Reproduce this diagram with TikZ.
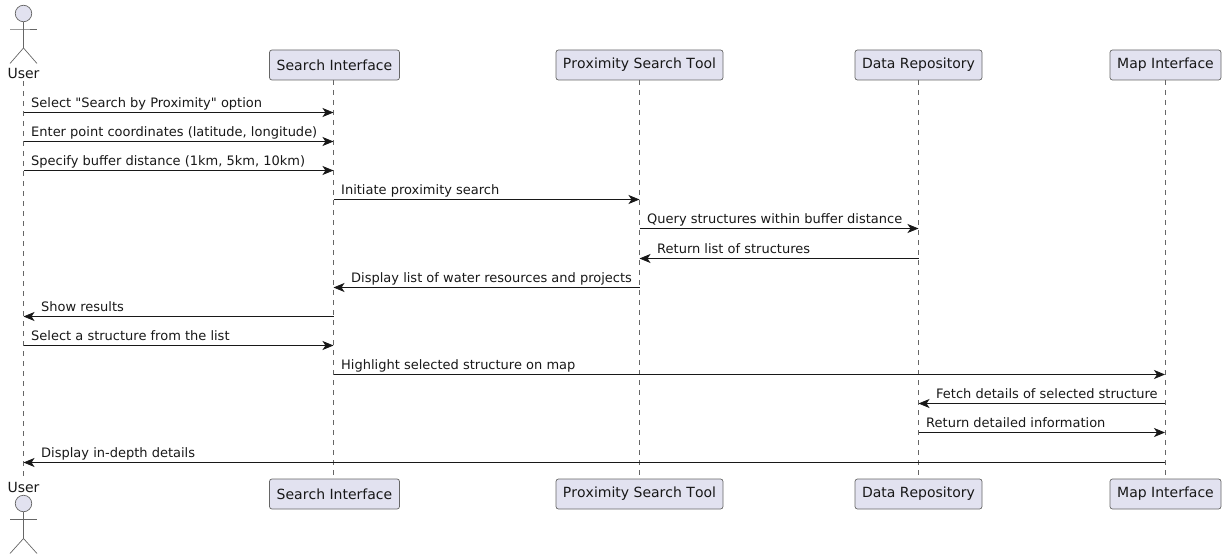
\documentclass[tikz,border=0pt]{standalone}
\usepackage{fontspec}
\setmainfont{DejaVu Sans}[Ligatures=TeXOff]
\usepackage{xcolor}
\usetikzlibrary{arrows.meta, positioning, calc}
\definecolor{boxfill}{HTML}{E2E2F0}
\definecolor{boxline}{HTML}{666666}
\definecolor{inkline}{HTML}{181818}

\begin{document}
\begin{tikzpicture}[x=1pt, y=-1pt, >={Stealth[length=11pt, width=9pt, inset=3pt]}]
  \tikzset{
    partbox/.style = {rectangle, draw=boxline, fill=boxfill, rounded corners=2.5pt, line width=0.7pt,
      minimum height=30pt, inner xsep=0pt, inner ysep=0pt, font=\fontsize{14}{16}\selectfont\addfontfeatures{Kerning=Off}, text=inkline},
    actorline/.style = {draw=boxline, line width=0.7pt},
    actorhead/.style = {circle, draw=boxline, fill=boxfill, line width=0.7pt, minimum size=16.5pt, inner sep=0pt},
    actorname/.style = {inner sep=0pt, font=\fontsize{14}{16}\selectfont, text=inkline},
    lifeline/.style = {draw=boxline, line width=0.5pt, dash pattern=on 5pt off 5pt},
    msg/.style = {->, draw=inkline, line width=0.8pt},
    msglabel/.style = {inner sep=0pt, anchor=base west, font=\fontsize{13}{15}\selectfont, text=inkline}
  }
  \useasboundingbox (0,0) rectangle (1226,559);

  % participants, top row and bottom row
  \node[partbox, minimum width=130pt] (SearchTop) at (334.5,65) {Search Interface};
  \node[partbox, minimum width=167pt] (ProxTop) at (639.5,65) {Proximity Search Tool};
  \node[partbox, minimum width=127pt] (DataTop) at (918.5,65) {Data Repository};
  \node[partbox, minimum width=111pt] (MapTop) at (1165.5,65) {Map Interface};
  \node[partbox, minimum width=130pt] (SearchBot) at (334.5,494) {Search Interface};
  \node[partbox, minimum width=167pt] (ProxBot) at (639.5,494) {Proximity Search Tool};
  \node[partbox, minimum width=127pt] (DataBot) at (918.5,494) {Data Repository};
  \node[partbox, minimum width=111pt] (MapBot) at (1165.5,494) {Map Interface};

  % actor, top
  \node[actorhead] (HeadTop) at (23.5,13.5) {};
  \node[actorname] (UserTop) at (23.5,73) {User};
  \coordinate (ArmsTop) at (23.5,29);
  \coordinate (HipTop) at (23.5,48);
  \draw[actorline] (HeadTop) -- (HipTop) -- (10,63.5);
  \draw[actorline] (HipTop) -- (37,63.5);
  \draw[actorline] (10,29) -- (ArmsTop) -- (37,29);

  % actor, bottom
  \node[actorname] (UserBot) at (23.5,487) {User};
  \node[actorhead] (HeadBot) at (23.5,503.5) {};
  \coordinate (ArmsBot) at (23.5,519.5);
  \coordinate (HipBot) at (23.5,538.5);
  \draw[actorline] (HeadBot) -- (HipBot) -- (10,553.5);
  \draw[actorline] (HipBot) -- (37,553.5);
  \draw[actorline] (10,519.5) -- (ArmsBot) -- (37,519.5);

  % lifelines
  \coordinate (User) at (23.5,81);
  \coordinate (UserEnd) at (23.5,476);
  \coordinate (Search) at (333.5,80);
  \coordinate (SearchEnd) at (333.5,479);
  \coordinate (Prox) at (639.5,80);
  \coordinate (ProxEnd) at (639.5,479);
  \coordinate (Data) at (918.5,80);
  \coordinate (DataEnd) at (918.5,479);
  \coordinate (Map) at (1165,80);
  \coordinate (MapEnd) at (1165,479);
  \foreach \part in {User, Search, Prox, Data, Map}
    \draw[lifeline] (\part) -- (\part End);

  % messages going right
  \foreach \y/\from/\to/\txt in {
    112.5/User/Search/{Select "Search by Proximity" option},
    141.5/User/Search/{Enter point coordinates (latitude, longitude)},
    170.5/User/Search/{Specify buffer distance (1km, 5km, 10km)},
    199.5/Search/Prox/{Initiate proximity search},
    228.5/Prox/Data/{Query structures within buffer distance},
    345.5/User/Search/{Select a structure from the list},
    374.5/Search/Map/{Highlight selected structure on map},
    432.5/Data/Map/{Return detailed information}} {
    \draw[msg] (\from |- 0,\y) -- (\to |- 0,\y);
    \node[msglabel] (label\y) at ($(\from |- 0,\y)+(7.5,-4.9)$) {\txt};
  }

  % messages going left
  \foreach \y/\from/\to/\txt in {
    258.5/Data/Prox/{Return list of structures},
    287.5/Prox/Search/{Display list of water resources and projects},
    316.5/Search/User/{Show results},
    403.5/Map/Data/{Fetch details of selected structure},
    462.5/Map/User/{Display in-depth details}} {
    \draw[msg] (\from |- 0,\y) -- (\to |- 0,\y);
    \node[msglabel] (label\y) at ($(\to |- 0,\y)+(17.5,-4.9)$) {\txt};
  }
\end{tikzpicture}
\end{document}
